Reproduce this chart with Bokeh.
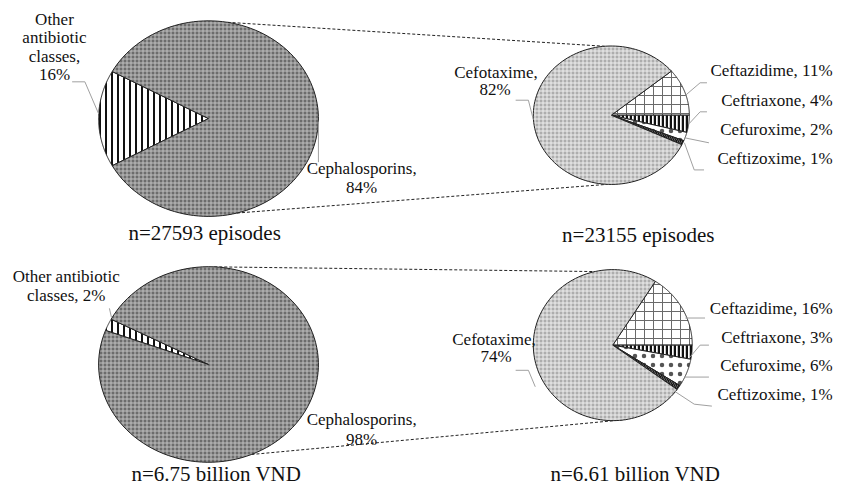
import numpy as np
from bokeh.plotting import figure
from bokeh.models import Range1d
from bokeh.core.properties import value
from bokeh.embed import file_html
from bokeh.resources import INLINE

# ---------------- data ----------------
outer_labels = ["Other antibiotic classes", "Cephalosporins"]
outer_pct_episodes = [16, 84]
outer_pct_cost = [2, 98]

inner_labels = ["Ceftazidime", "Ceftriaxone", "Cefuroxime", "Ceftizoxime", "Cefotaxime"]
inner_pct_episodes = [11, 4, 2, 1, 82]
inner_pct_cost = [16, 3, 6, 1, 74]

n_labels = ["n=27593 episodes", "n=23155 episodes", "n=6.75 billion VND", "n=6.61 billion VND"]

# ---------------- styles ----------------
OUTER_STYLES = [
    dict(fill_color="white", hatch_pattern="|", hatch_color="#111111", hatch_scale=6, hatch_weight=2),
    dict(fill_color="#6c6c6c", hatch_pattern="+", hatch_color="#c0c0c0", hatch_scale=4, hatch_weight=1),
]
INNER_STYLES = [
    dict(fill_color="white", hatch_pattern="+", hatch_color="#6a6a6a", hatch_scale=9, hatch_weight=1),
    dict(fill_color="white", hatch_pattern="|", hatch_color="#111111", hatch_scale=4, hatch_weight=2.5),
    dict(fill_color="white", hatch_pattern=".", hatch_color="#555555", hatch_scale=9, hatch_weight=0.5),
    dict(fill_color="#151515", hatch_pattern="/", hatch_color="#666666", hatch_scale=4, hatch_weight=1),
    dict(fill_color="#adadad", hatch_pattern="+", hatch_color="#efefef", hatch_scale=4, hatch_weight=1),
]

FONT = value("Liberation Serif")

# page-pixel coordinate system of the reference (852 x 501), fitted into the figure
p = figure(width=836, height=485, x_range=Range1d(0, 852), y_range=Range1d(501, 0),
           output_backend="svg", toolbar_location=None, min_border=0,
           x_axis_location=None, y_axis_location=None)
p.xgrid.grid_line_color = None
p.ygrid.grid_line_color = None
p.outline_line_color = None


def ell_pt(g, deg):
    cx, cy, rx, ry = g
    t = np.radians(deg)
    return cx + rx * np.cos(t), cy - ry * np.sin(t)


def draw_pie(g, pcts, styles, start_deg, clockwise):
    cx, cy, rx, ry = g
    a = start_deg
    for pct, st in zip(pcts, styles):
        a1 = a - pct * 3.6 if clockwise else a + pct * 3.6
        t = np.radians(np.linspace(a, a1, 120))
        xs = [cx] + list(cx + rx * np.cos(t))
        ys = [cy] + list(cy - ry * np.sin(t))
        p.patch(xs, ys, line_color="#222222", line_width=1, **st)
        a = a1


# geometry (cx, cy, rx, ry)
G_TL = (212, 122, 112, 101)
G_TR = (622.5, 118.5, 79.5, 71.5)
G_BL = (212, 376, 112, 101)
G_BR = (624, 356, 81, 78)

# connectors (drawn first so pies sit on top)
conn = [(G_TL, 80, G_TR, 95), (G_TL, -75, G_TR, -93),
        (G_BL, 87, G_BR, 103), (G_BL, -67, G_BR, -80)]
x0, y0, x1, y1 = [], [], [], []
for ga, da, gb, db in conn:
    a = ell_pt(ga, da)
    b = ell_pt(gb, db)
    x0.append(a[0]); y0.append(a[1]); x1.append(b[0]); y1.append(b[1])
p.segment(x0, y0, x1, y1, line_color="#222222", line_width=1, line_dash="3 2")

draw_pie(G_TL, outer_pct_episodes, OUTER_STYLES, 180 - outer_pct_episodes[0] * 1.8, False)
draw_pie(G_BL, outer_pct_cost, OUTER_STYLES, 156 - outer_pct_cost[0] * 1.8, False)
draw_pie(G_TR, inner_pct_episodes, INNER_STYLES, inner_pct_episodes[0] * 3.6, True)
draw_pie(G_BR, inner_pct_cost, INNER_STYLES, inner_pct_cost[0] * 3.6, True)

# leader lines
leaders = [
    ([73, 86, 100], [84, 84, 117]),
    ([324, 324], [125, 167]),
    ([525, 538, 543], [103, 103, 123]),
    ([720, 713, 698], [85, 85, 98]),
    ([720, 713, 702], [115, 115, 127]),
    ([698, 722], [142, 147]),
    ([697, 707, 717], [147, 175, 175]),
    ([111, 113], [318, 327]),
    ([525, 538, 545], [382, 382, 399]),
    ([698, 718], [328, 328]),
    ([722, 713, 703], [356, 356, 368]),
    ([697, 722], [389, 389]),
    ([686, 707, 725], [403, 417, 419]),
]
p.multi_line([l[0] for l in leaders], [l[1] for l in leaders], line_color="#a0a0a0", line_width=1)

# ---------------- labels ----------------
def lab(name, pct):
    return f"{name}, {pct}%"

txt, tx, ty, talign = [], [], [], []

def add(s, x, y, al):
    txt.append(s); tx.append(x); ty.append(y); talign.append(al)

# top-left
w = lab(outer_labels[0], outer_pct_episodes[0]).split()
for i, s in enumerate(w):
    add(s, 55, 20 + i * 18.7, "center")
w = lab(outer_labels[1], outer_pct_episodes[1]).split()
add(w[0], 312, 174, "left"); add(w[1], 368, 193, "center")
# top-right
w = lab(inner_labels[4], inner_pct_episodes[4]).split()
add(w[0], 505, 74, "center"); add(w[1], 504, 92, "center")
for i, yy in zip(range(4), [72, 103, 133, 163]):
    add(lab(inner_labels[i], inner_pct_episodes[i]), 848, yy, "right")
# bottom-left
w = lab(outer_labels[0], outer_pct_cost[0]).split()
add(" ".join(w[:2]), 67, 285, "center"); add(" ".join(w[2:]), 67, 305, "center")
w = lab(outer_labels[1], outer_pct_cost[1]).split()
add(w[0], 312, 433, "left"); add(w[1], 368, 453, "center")
# bottom-right
w = lab(inner_labels[4], inner_pct_cost[4]).split()
add(w[0], 503, 350, "center"); add(w[1], 505, 368, "center")
for i, yy in zip(range(4), [318, 348, 377, 407]):
    add(lab(inner_labels[i], inner_pct_cost[i]), 848, yy, "right")

p.text(tx, ty, text=txt, text_align=talign, text_baseline="middle",
       text_font=FONT, text_font_size="17px", text_color="#111111")

p.text([208, 650, 220, 647], [240, 242, 489, 489], text=n_labels, text_align="center",
       text_baseline="middle", text_font=FONT, text_font_size="21px", text_color="#111111")

open("out.html", "w").write(file_html(p, INLINE))
